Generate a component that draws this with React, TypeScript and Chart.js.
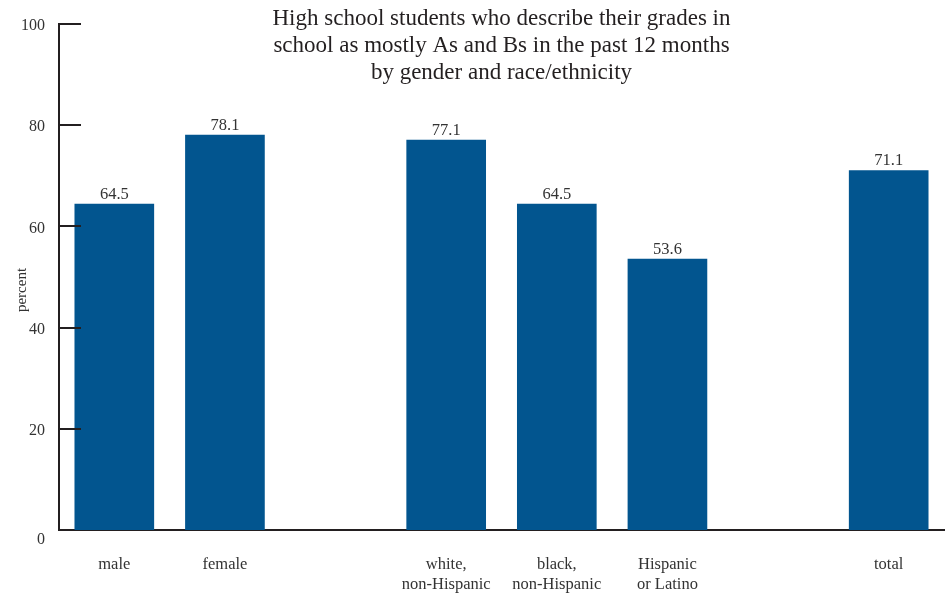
import React, { useEffect, useRef } from "react";
import { Chart, registerables } from "chart.js";

Chart.register(...registerables);

const categories: (string | string[])[] = [
  "male",
  "female",
  "",
  ["white,", "non-Hispanic"],
  ["black,", "non-Hispanic"],
  ["Hispanic", "or Latino"],
  "",
  "total",
];
const values: (number | null)[] = [64.5, 78.1, null, 77.1, 64.5, 53.6, null, 71.1];
const yTicks: number[] = [0, 20, 40, 60, 80, 100];
const titleLines: string[] = [
  "High school students who describe their grades in",
  "school as mostly As and Bs in the past 12 months",
  "by gender and race/ethnicity",
];
const yTitle = "percent";

const FONT = "'Liberation Serif', 'DejaVu Serif', serif";
const INK = "#231f20";
const TEXT = "#333333";
const BAR = "#02558f";

export default function App() {
  const ref = useRef<HTMLCanvasElement | null>(null);
  useEffect(() => {
    document.body.style.margin = "0";
    const canvas = ref.current!;
    const overlay = {
      id: "overlay",
      afterDraw(chart: any) {
        const ctx = chart.ctx;
        const y = chart.scales.y;
        const area = chart.chartArea;
        ctx.save();
        // inward ticks
        ctx.strokeStyle = INK;
        ctx.lineWidth = 2;
        yTicks.forEach((t) => {
          if (t === 0) return;
          const py = Math.round(y.getPixelForValue(t));
          ctx.beginPath();
          ctx.moveTo(area.left, py);
          ctx.lineTo(area.left + 22, py);
          ctx.stroke();
        });
        // y tick labels
        ctx.fillStyle = TEXT;
        ctx.font = `16px ${FONT}`;
        ctx.textAlign = "right";
        ctx.textBaseline = "middle";
        yTicks.forEach((t) => {
          const py = y.getPixelForValue(t) + (t === 0 ? 10 : 2);
          ctx.fillText(String(t), 45, py);
        });
        // value labels
        ctx.fillStyle = TEXT;
        ctx.font = `16.5px ${FONT}`;
        ctx.textAlign = "center";
        ctx.textBaseline = "bottom";
        const meta = chart.getDatasetMeta(0);
        meta.data.forEach((bar: any, i: number) => {
          const v = values[i];
          if (v == null) return;
          ctx.fillText(v.toFixed(1), bar.x, bar.y - 1);
        });
        // title
        ctx.fillStyle = INK;
        ctx.font = `23px ${FONT}`;
        ctx.textBaseline = "middle";
        const cx = (area.left + area.right) / 2;
        titleLines.forEach((l, i) => {
          ctx.fillText(l, cx, 19 + i * 27);
        });
        // y title
        ctx.translate(22, 290);
        ctx.rotate(-Math.PI / 2);
        ctx.font = `15px ${FONT}`;
        ctx.fillStyle = TEXT;
        ctx.fillText(yTitle, 0, 0);
        ctx.restore();
      },
    };
    const chart = new Chart(canvas, {
      type: "bar",
      data: {
        labels: categories,
        datasets: [
          {
            data: values,
            backgroundColor: BAR,
            barPercentage: 0.72,
            categoryPercentage: 1,
          },
        ],
      },
      options: {
        animation: false,
        responsive: false,
        maintainAspectRatio: false,
        layout: { padding: { top: 24, right: 4, left: 0, bottom: 0 } },
        plugins: {
          legend: { display: false },
          tooltip: { enabled: false },
          title: { display: false },
        },
        scales: {
          x: {
            grid: { display: false, drawTicks: false },
            border: { display: true, color: INK, width: 2 },
            ticks: {
              color: TEXT,
              padding: 25,
              autoSkip: false,
              maxRotation: 0,
              font: { family: FONT, size: 16.5, lineHeight: 1.2 },
            },
            afterFit(s: any) {
              s.height = 68;
            },
          },
          y: {
            min: 0,
            max: 100,
            grid: { display: false, drawTicks: false },
            border: { display: true, color: INK, width: 2 },
            afterBuildTicks(s: any) {
              s.ticks = yTicks.map((v) => ({ value: v }));
            },
            ticks: { display: false },
            afterFit(s: any) {
              s.width = 59;
            },
          },
        },
      },
      plugins: [overlay],
    });
    return () => chart.destroy();
  }, []);
  return <canvas ref={ref} width={948} height={598} style={{ display: "block" }} />;
}
